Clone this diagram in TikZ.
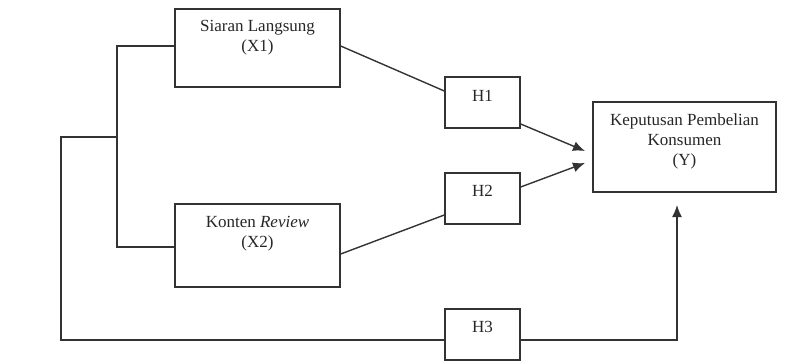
\documentclass[tikz,border=0pt]{standalone}
\usepackage{fontspec}
\setmainfont{Liberation Serif}
\usetikzlibrary{arrows.meta}
\definecolor{ink}{HTML}{333333}
\begin{document}
\begin{tikzpicture}[x=1pt,y=-1pt,line width=1.4pt,draw=ink,
  font=\fontsize{17}{20}\selectfont,
  box/.style={draw=ink,line width=1.4pt,inner sep=0pt},
  txt/.style={align=center,anchor=north,inner sep=0pt,text=black!85},
  arr/.style={-{Latex[length=12pt,width=10pt]}}]
\useasboundingbox (0,0) rectangle (793,361);
% boxes
\node[box,minimum width=165pt,minimum height=78pt] (x1) at (257.5,48) {};
\node[txt] (x1t) at ([yshift=-11pt]x1.north) {Siaran Langsung\\(X1)};
\node[box,minimum width=165pt,minimum height=83pt] (x2) at (257.5,245.5) {};
\node[txt] (x2t) at ([yshift=-12pt]x2.north) {Konten \textit{Review}\\(X2)};
\node[box,minimum width=75pt,minimum height=51pt] (h1) at (482.5,102.5) {};
\node[txt] (h1t) at ([yshift=-13pt]h1.north) {H1};
\node[box,minimum width=75pt,minimum height=51pt] (h2) at (482.5,198.5) {};
\node[txt] (h2t) at ([yshift=-12pt]h2.north) {H2};
\node[box,minimum width=75pt,minimum height=51pt] (h3) at (482.5,334.5) {};
\node[txt] (h3t) at ([yshift=-12pt]h3.north) {H3};
\node[box,minimum width=183pt,minimum height=90pt] (y) at (684.5,147) {};
\node[txt] (yt) at ([yshift=-12pt]y.north) {Keputusan Pembelian\\Konsumen\\(Y)};
% helper coordinates
\coordinate (brk) at (117,46);
\coordinate (j) at (117,137);
\coordinate (o) at (61,137);
\coordinate (ybot) at (677,205);
\coordinate (t1) at (585,151);
\coordinate (t2) at (585,163);
% connectors
\draw ([yshift=2pt]x1.west) -- (brk) |- ([yshift=-1.5pt]x2.west);
\draw (j) -- (o) |- ([yshift=-5.5pt]h3.west);
\draw[arr] ([yshift=-5.5pt]h3.east) -| (ybot);
\draw ([yshift=2pt]x1.east) -- ([yshift=11.5pt]h1.west);
\draw ([yshift=-8.5pt]x2.east) -- ([yshift=-16.5pt]h2.west);
\draw[arr] ([yshift=-21.5pt]h1.east) -- (t1);
\draw[arr] ([yshift=11.5pt]h2.east) -- (t2);
\end{tikzpicture}
\end{document}
